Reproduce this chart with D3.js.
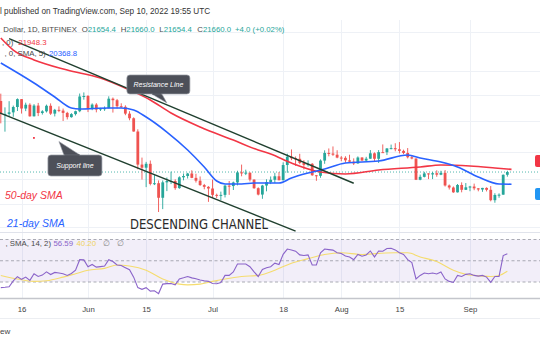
<!DOCTYPE html>
<html><head><meta charset="utf-8">
<script src="https://cdn.jsdelivr.net/npm/d3@7"></script>
<style>html,body{margin:0;padding:0;background:#fff;}svg{display:block;font-family:"Liberation Sans",Arial,sans-serif;}</style>
</head><body><svg id="c" width="540" height="340"></svg>
<script>
// ---------- DATA (BTC/USD, 1D, Bitfinex) ----------
const firstDay = "2022-05-11";
const opens = [31010,29030,29050,29280,30080,31300,29850,30430,28700,30300,29180,29430,30270,29090,29650,29540,29200,28580,29020,29450,31720,
31800,29800,30450,29700,29860,29900,31370,31130,30200,30110,29090,28420,26580,22490,22140,22580,20400,20470,19020,20560,20700,20700,19970,21090,21230,21500,21030,20730,20280,20100,
19930,19300,19250,19300,20220,20180,20550,21620,21590,21590,20850,19960,19330,20230,20580,20830,21200,20780,22440,23400,23220,23160,22680,22460,22580,21310,21250,22950,23850,23780,23640,
23300,23270,22980,22820,22620,23310,22950,23170,23810,23160,23950,23940,24400,24440,24300,24100,23850,23340,23190,20830,21140,21510,21400,21530,21370,21570,20240,20030,19550,20290,19800,
20050,20130,19950,19830,19990,19800,18790,19290,19320,21360];
const highs = [32180,30030,30980,30300,31420,31320,30750,30660,30520,30710,29600,30450,30640,29800,30180,29850,29360,29160,29530,32200,32380,
31960,30640,30670,29950,30170,31750,31560,31330,30650,30340,29450,28550,26880,23300,22800,22960,21330,20760,20760,21070,21700,20880,21200,21500,21570,21850,21480,21180,20400,20170,
20850,19420,19620,20300,20700,20640,21800,22490,21920,21600,20870,20050,20300,20880,21180,21580,21660,22750,23760,24280,23430,23750,23000,22980,22660,21330,23090,24170,24400,24650,24180,
23480,23460,23640,23210,23440,23340,23390,24200,23920,24200,24900,24440,24880,25050,25200,24250,24450,23600,23200,21380,21680,21520,21660,21850,21800,21880,20340,20140,20390,20560,20490,
20200,20430,19970,20000,20050,20180,19460,19450,21400,21800];
const lows = [27700,26560,28720,28630,29480,29100,29460,28650,28680,28730,28950,29260,28900,28680,29310,28030,28250,28500,28820,29300,31220,
29320,29600,29280,29480,29500,29880,29250,29850,29950,28860,28130,26560,21960,20850,20070,20250,20280,17700,17960,19670,20380,19800,19900,20770,20960,21000,20540,20200,19850,18630,
19000,19000,18800,19050,19300,19780,20250,21200,21330,20660,19900,19250,18920,19650,20380,20500,20770,20760,21580,23000,22340,22530,21950,22270,21250,20720,21040,22580,23450,23500,23220,
22880,22700,22680,22440,22590,22930,22850,23150,22900,22680,23900,23600,24300,24050,23800,23700,23200,23100,20800,20780,21080,20900,20900,21150,21320,20130,19830,19500,19530,19550,19780,
19660,19760,19650,19600,19640,18680,18550,19020,19310,21160];
const closes = [29030,29050,29280,30080,31300,29850,30430,28700,30300,29180,29430,30270,29090,29650,29540,29200,28580,29020,29450,31720,31800,
29800,30450,29700,29860,29900,31370,31130,30200,30110,29090,28420,26580,22490,22140,22580,20400,20470,19020,20560,20700,20700,19970,21090,21230,21500,21030,20730,20280,20100,19930,
19300,19250,19300,20220,20180,20550,21620,21590,21590,20850,19960,19330,20230,20580,20830,21200,20780,22440,23400,23220,23160,22680,22460,22580,21310,21250,22950,23850,23780,23640,23300,
23270,22980,22820,22620,23310,22950,23170,23810,23160,23950,23940,24400,24440,24300,24100,23850,23340,23190,20830,21140,21510,21400,21530,21370,21570,20240,20030,19550,20290,19800,20050,
20130,19950,19830,19990,19800,18790,19290,19320,21360,21660];
// RSI(14) per candle
const rsiValues = [24.7,25.0,25.5,31.0,35.0,32.5,34.6,31.5,37.8,35.2,36.5,39.5,37.0,39.0,38.5,37.8,36.2,38.0,41.1,51.0,50.8,
44.4,46.5,44.0,44.5,45.0,51.0,49.3,46.0,45.5,43.5,41.5,34.6,24.7,23.1,24.7,21.4,21.8,19.1,28.0,28.5,28.5,27.3,32.9,34.0,35.2,33.9,33.0,31.9,31.2,30.6,
28.6,28.4,29.6,36.2,36.2,39.5,47.0,47.0,47.0,44.4,39.5,35.2,41.8,43.5,44.4,47.7,46.5,56.0,61.0,60.2,59.0,55.5,54.9,55.5,46.0,46.0,57.5,61.0,60.5,60.0,57.5,
56.9,54.5,53.6,51.0,55.9,54.3,55.5,59.2,53.6,59.2,59.0,61.5,61.8,60.2,57.5,55.9,51.0,48.3,32.9,36.2,38.5,37.8,38.5,37.5,39.5,32.9,30.6,29.6,36.2,35.2,37.2,
37.8,36.2,35.5,36.2,34.6,29.6,35.2,35.2,54.9,56.6];
// SMA(14) of RSI, read at dates
const rsiMaDates = ["2022-05-11","2022-05-15","2022-05-19","2022-05-22","2022-05-26","2022-05-29","2022-06-01","2022-06-05","2022-06-08","2022-06-11","2022-06-15","2022-06-19","2022-06-23","2022-06-25","2022-06-28","2022-07-01","2022-07-04","2022-07-08","2022-07-12","2022-07-16","2022-07-20","2022-07-24","2022-07-28","2022-08-01","2022-08-06","2022-08-10","2022-08-14","2022-08-17","2022-08-20","2022-08-24","2022-08-28","2022-08-31","2022-09-02","2022-09-06","2022-09-08","2022-09-10"];
const rsiMaValues = [36.2,32.9,30.6,31.2,34.6,37.8,41.1,42.8,46.0,45.0,41.1,32.9,28.0,27.3,28.0,30.6,32.9,35.2,36.2,41.1,47.7,52.0,55.9,57.5,55.9,56.9,57.5,57.5,53.6,49.3,41.1,37.2,36.2,35.2,36.2,40.2];
// 50-day SMA (red)
const sma50Dates = ["2022-05-11","2022-05-14","2022-05-19","2022-05-27","2022-06-04","2022-06-11","2022-06-16","2022-06-21","2022-06-28","2022-07-06","2022-07-12","2022-07-15","2022-07-20","2022-07-27","2022-08-02","2022-08-10","2022-08-20","2022-08-25","2022-09-01","2022-09-07","2022-09-11"];
const sma50Values = [42620,40110,38140,36260,34820,32780,31170,29180,27190,25460,24210,23730,22670,21660,21450,21880,22220,22440,22330,22110,21948.3];
// 21-day SMA (blue)
const sma21Dates = ["2022-05-11","2022-05-19","2022-05-24","2022-05-28","2022-05-30","2022-06-06","2022-06-09","2022-06-12","2022-06-15","2022-06-20","2022-06-25","2022-06-29","2022-07-02","2022-07-04","2022-07-08","2022-07-11","2022-07-17","2022-07-20","2022-07-24","2022-07-28","2022-08-02","2022-08-10","2022-08-17","2022-08-20","2022-08-25","2022-08-29","2022-09-03","2022-09-08","2022-09-11"];
const sma21Values = [37570,33950,31640,29930,29780,29930,29930,29630,28600,26510,24210,22220,20700,20390,20390,20490,20490,21020,21550,21990,22670,22900,23610,23250,22780,22220,21120,20390,20368.8];
// channel trend lines [date, price]
const resistanceLine = [["2022-05-13",42490],["2022-08-04",20460]];
const supportLine = [["2022-05-10",29380],["2022-07-21",16070]];
// time axis
const tickDates = ["2022-05-16","2022-06-01","2022-06-15","2022-07-01","2022-07-18","2022-08-01","2022-08-15","2022-09-01"];
const tickLabels = ["16","Jun","15","Jul","18","Aug","15","Sep"];
const gridPrices = [16430,18400,20900,24000,28000,32000,36000,44000];
const rsiLevels = [70,50,30];
const lastPrice = 21660;

// ---------- SCALES ----------
const parse = d3.utcParse("%Y-%m-%d");
const DAY = 864e5;
const t0 = parse(firstDay);
const candles = closes.map((c,i)=>({date:new Date(+t0+i*DAY),o:opens[i],h:highs[i],l:lows[i],c}));
const x = d3.scaleUtc().domain([parse("2022-05-11"),parse("2022-09-11")]).range([0.81,511.5]);
const y = d3.scaleLog().domain([16000,46680]).range([232,20]);
const yr = d3.scaleLinear().domain([30,70]).range([282,239.5]);
const UP="#26a69a", DOWN="#ef5350", RED="#f23645", BLUE="#2962ff";

const svg = d3.select("#c");
svg.append("rect").attr("width",540).attr("height",340).attr("fill","#fff");
const defs = svg.append("defs");
defs.append("clipPath").attr("id","cm").append("rect").attr("x",0).attr("y",20).attr("width",540).attr("height",212);
defs.append("clipPath").attr("id","cr").append("rect").attr("x",0).attr("y",232).attr("width",540).attr("height",66);

// grids
const grid = svg.append("g");
grid.selectAll(".vg").data(tickDates).join("line")
  .attr("x1",d=>Math.round(x(parse(d)))+0.5).attr("x2",d=>Math.round(x(parse(d)))+0.5)
  .attr("y1",20).attr("y2",298).attr("stroke","#eef1f6").attr("stroke-width",1);
grid.selectAll(".hg").data(gridPrices).join("line")
  .attr("x1",0).attr("x2",540).attr("y1",d=>Math.round(y(d))+0.5).attr("y2",d=>Math.round(y(d))+0.5)
  .attr("stroke","#eef1f6").attr("stroke-width",1);

// price line
svg.append("line").attr("x1",0).attr("x2",540).attr("y1",y(lastPrice)).attr("y2",y(lastPrice))
  .attr("stroke",UP).attr("stroke-width",0.8).attr("stroke-dasharray","1,2");

const main = svg.append("g").attr("clip-path","url(#cm)");
// candles
main.selectAll(".wk").data(candles).join("rect")
  .attr("x",d=>x(d.date)-0.45).attr("width",0.9)
  .attr("y",d=>y(d.h)).attr("height",d=>Math.max(0.8,y(d.l)-y(d.h)))
  .attr("fill",d=>d.c>=d.o?UP:DOWN);
main.selectAll(".bd").data(candles).join("rect")
  .attr("x",d=>x(d.date)-1.4).attr("width",2.8)
  .attr("y",d=>y(Math.max(d.o,d.c))).attr("height",d=>Math.max(1,Math.abs(y(d.o)-y(d.c))))
  .attr("fill",d=>d.c>=d.o?UP:DOWN);

// moving averages
const maLine = d3.line().x(d=>x(parse(d[0]))).y(d=>y(d[1])).curve(d3.curveMonotoneX);
main.append("path").attr("d",maLine(d3.zip(sma50Dates,sma50Values))).attr("fill","none").attr("stroke",RED).attr("stroke-width",1.6);
main.append("path").attr("d",maLine(d3.zip(sma21Dates,sma21Values))).attr("fill","none").attr("stroke",BLUE).attr("stroke-width",1.6);

// channel lines
[resistanceLine,supportLine].forEach(L=>{
  main.append("line").attr("x1",x(parse(L[0][0]))).attr("y1",y(L[0][1]))
    .attr("x2",x(parse(L[1][0]))).attr("y2",y(L[1][1]))
    .attr("stroke","#20402f").attr("stroke-width",1.5);
});
// small red marker
main.append("rect").attr("x",x(parse("2022-05-19"))-1).attr("y",y(25720)-1).attr("width",1.8).attr("height",1.8).attr("fill",RED);

// callouts
function callout(tipDate,tipPrice,box,tail,label){
  const tx=x(parse(tipDate)), ty=y(tipPrice);
  const g=svg.append("g");
  g.append("path").attr("d",`M${tx},${ty}L${tx+tail[0]},${ty+tail[1]}L${tx+tail[2]},${ty+tail[3]}Z`).attr("fill","#4d5059").attr("stroke","#9a9da6").attr("stroke-width",0.6);
  g.append("rect").attr("x",tx+box[0]).attr("y",ty+box[1]).attr("width",box[2]).attr("height",box[3]).attr("rx",3)
    .attr("fill","#4d5059").attr("stroke","#9a9da6").attr("stroke-width",0.7);
  g.append("path").attr("d",`M${tx+tail[0]+0.6},${ty+tail[1]}L${tx+tail[2]-0.6},${ty+tail[3]}`).attr("stroke","#4d5059").attr("stroke-width",1.4);
  g.append("text").attr("x",tx+box[0]+box[2]/2).attr("y",ty+box[1]+box[3]/2+2.4).attr("text-anchor","middle")
    .attr("fill","#fff").attr("font-size",7).attr("font-style","italic").text(label);
}
callout("2022-06-20",30700,[-40,-28,63,19],[-15,-9,-5,-9],"Resistance Line");
callout("2022-05-25",25270,[-11,13.5,54,21],[5,13.5,21,13.5],"Support line");

// axis tags (right)
svg.append("rect").attr("x",535).attr("y",y(sma50Values[sma50Values.length-1])-14.5).attr("width",12).attr("height",12).attr("rx",2).attr("fill",RED);
svg.append("rect").attr("x",535).attr("y",y(sma21Values[sma21Values.length-1])+3.8).attr("width",12).attr("height",12).attr("rx",2).attr("fill","#2196f3");

// annotations text
svg.append("text").attr("x",5).attr("y",199).attr("fill",RED).attr("font-size",10.5).attr("font-style","italic").text("50-day SMA");
svg.append("text").attr("x",7).attr("y",227).attr("fill",BLUE).attr("font-size",10.5).attr("font-style","italic").text("21-day SMA");
svg.append("text").attr("x",130).attr("y",228.5).attr("fill","#2a2a2a").attr("font-size",14.5)
  .attr("font-family","'Liberation Sans Narrow','DejaVu Sans Condensed',sans-serif")
  .attr("textLength",138).attr("lengthAdjust","spacingAndGlyphs").text("DESCENDING CHANNEL");

// pane separator
svg.append("line").attr("x1",0).attr("x2",540).attr("y1",232.5).attr("y2",232.5).attr("stroke","#e0e3eb");

// RSI pane
const rp = svg.append("g").attr("clip-path","url(#cr)");
rp.append("rect").attr("x",0).attr("width",540).attr("y",yr(70)).attr("height",yr(30)-yr(70)).attr("fill","rgba(126,87,194,0.1)");
rp.selectAll(".lv").data(rsiLevels).join("line").attr("x1",0).attr("x2",540).attr("y1",d=>yr(d)).attr("y2",d=>yr(d))
  .attr("stroke","#9598a1").attr("stroke-width",0.8).attr("stroke-dasharray","3,2.5");
rp.append("path").attr("d",d3.line().x(d=>x(parse(d[0]))).y(d=>yr(d[1])).curve(d3.curveMonotoneX)(d3.zip(rsiMaDates,rsiMaValues)))
  .attr("fill","none").attr("stroke","#f5dc6e").attr("stroke-width",1.1);
rp.append("path").attr("d",d3.line().x((d,i)=>x(candles[i].date)).y(d=>yr(d))(rsiValues))
  .attr("fill","none").attr("stroke","#8a63c9").attr("stroke-width",1.1);

// time axis
svg.append("line").attr("x1",0).attr("x2",540).attr("y1",298.5).attr("y2",298.5).attr("stroke","#c4c6cc").attr("stroke-width",1.5);
const ax = svg.append("g").attr("transform","translate(0,303)")
  .call(d3.axisBottom(x).tickValues(tickDates.map(parse)).tickFormat((d,i)=>tickLabels[i]).tickSize(0));
ax.select(".domain").remove();
ax.selectAll("text").attr("font-size",7.8).attr("fill","#444").attr("font-family","'Liberation Sans',Arial,sans-serif");
svg.append("line").attr("x1",0).attr("x2",540).attr("y1",318.5).attr("y2",318.5).attr("stroke","#eceef2");
svg.append("text").attr("x",0).attr("y",334).attr("font-size",8).attr("fill","#444").text("ew");

// header & legends
svg.append("text").attr("x",0).attr("y",13.5).attr("font-size",8.2).attr("fill","#333").text("l published on TradingView.com, Sep 10, 2022 19:55 UTC");
const fs = 7.8, GRAY="#4a4a4a";
svg.append("text").attr("x",3.3).attr("y",32).attr("font-size",fs).attr("fill",GRAY).text("Dollar, 1D, BITFINEX");
const ohlc = [["O","21654.4",81.7],["H","21660.0",120.7],["L","21654.4",159.3],["C","21660.0",197.3],["","+4.0 (+0.02%)",235]];
ohlc.forEach(([k,v,px])=>{
  const t=svg.append("text").attr("x",px).attr("y",32).attr("font-size",fs);
  t.append("tspan").attr("fill",GRAY).text(k);
  t.append("tspan").attr("fill",UP).text(v);
});
svg.append("text").attr("x",2).attr("y",44.5).attr("font-size",fs).attr("fill",GRAY).text(", 0)");
svg.append("text").attr("x",18.3).attr("y",44.5).attr("font-size",fs).attr("fill",RED).text("21948.3");
svg.append("text").attr("x",4.5).attr("y",55.5).attr("font-size",fs).attr("fill",GRAY).text(", 0, SMA, 5)");
svg.append("text").attr("x",49).attr("y",55.5).attr("font-size",fs).attr("fill",BLUE).text("20368.8");
svg.append("text").attr("x",5.5).attr("y",246).attr("font-size",fs).attr("fill",GRAY).text(", SMA, 14, 2)");
svg.append("text").attr("x",53.5).attr("y",246).attr("font-size",fs).attr("fill","#8a63c9").text("56.59");
svg.append("text").attr("x",76.5).attr("y",246).attr("font-size",fs).attr("fill","#f0d35a").text("40.20");
svg.append("text").attr("x",103).attr("y",246).attr("font-size",fs).attr("fill","#888").text("\u2205");
svg.append("text").attr("x",117).attr("y",246).attr("font-size",fs).attr("fill","#888").text("\u2205");
</script></body></html>
